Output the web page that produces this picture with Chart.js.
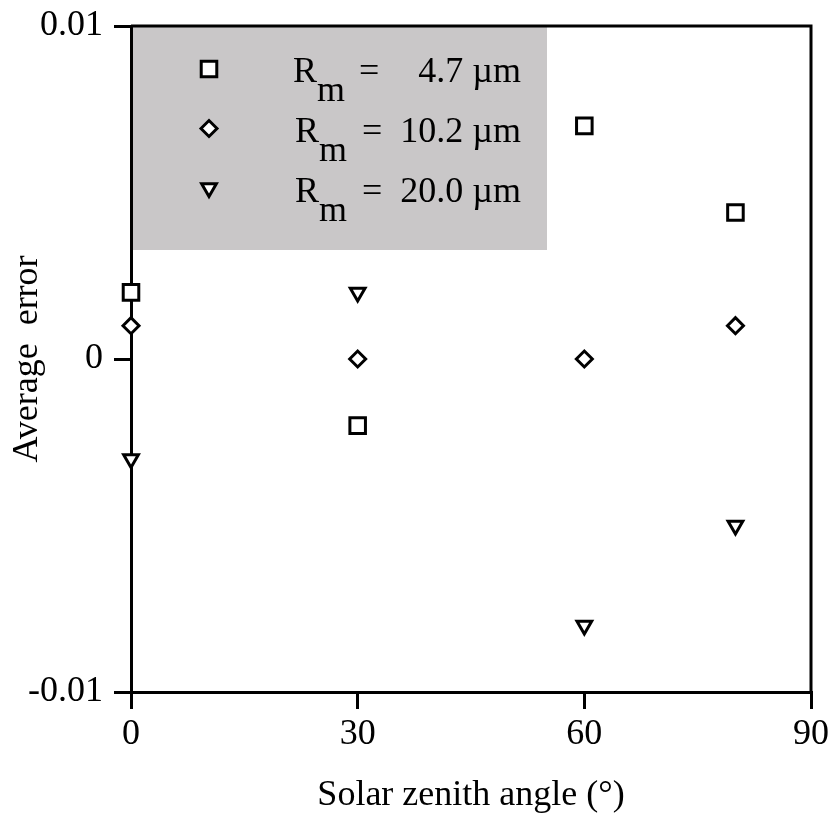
<!DOCTYPE html>
<html>
<head>
<meta charset="utf-8">
<script src="https://cdn.jsdelivr.net/npm/chart.js@4/dist/chart.umd.min.js"></script>
<style>
    body { margin: 0; background: #fff; }
    canvas { display: block; }
</style>
</head>
<body>
<canvas id="grafico" width="833" height="819"></canvas>
<script>
// data
const angulos = [0, 30, 60, 80];
const erro47 = [0.002, -0.002, 0.007, 0.0044];
const erro102 = [0.001, 0, 0, 0.001];
const erro200 = [-0.003, 0.002, -0.008, -0.005];
const raios = ['4.7', '10.2', '20.0'];
const yTicks = ['-0.01', '0', '0.01'];

Chart.defaults.font.family = "'Liberation Serif', 'Times New Roman', serif";
Chart.defaults.font.size = 36;
Chart.defaults.color = '#000';

function pontos(valores) {
    return angulos.map(function (a, i) { return { x: a, y: valores[i] }; });
}

const estilos = [
    { pointStyle: 'rect', radius: 11, rotation: 0 },
    { pointStyle: 'rectRot', radius: 8, rotation: 0 },
    { pointStyle: 'triangle', radius: 8.5, rotation: 180 }
];

const series = [erro47, erro102, erro200];

const datasets = series.map(function (valores, i) {
    return {
        label: 'R_m = ' + raios[i] + ' µm',
        data: pontos(valores),
        pointStyle: estilos[i].pointStyle,
        pointRadius: estilos[i].radius,
        pointRotation: estilos[i].rotation,
        pointBorderWidth: 3,
        pointBorderColor: '#000',
        pointBackgroundColor: '#fff',
        showLine: false,
        clip: false
    };
});

// gray legend box + frame top/right
const legendaCaixa = {
    id: 'legendaCaixa',
    beforeDraw: function (chart) {
        const ctx = chart.ctx;
        const area = chart.chartArea;
        ctx.save();
        ctx.fillStyle = '#c9c7c8';
        ctx.fillRect(area.left, area.top, 547 - area.left, 250 - area.top);

        for (let i = 0; i < raios.length; i++) {
            const yy = 69 + i * 59.5;
            ctx.fillStyle = '#fff';
            ctx.strokeStyle = '#000';
            ctx.lineWidth = 3;
            Chart.helpers.drawPoint(ctx, {
                pointStyle: estilos[i].pointStyle,
                rotation: estilos[i].rotation,
                radius: estilos[i].radius,
                borderWidth: 3
            }, 209, yy);

            ctx.fillStyle = '#000';
            ctx.font = "36px 'Liberation Serif', 'Times New Roman', serif";
            ctx.textBaseline = 'alphabetic';
            ctx.textAlign = 'left';
            const base = 82 + i * 60;
            const rx = i == 0 ? 293 : 295;
            ctx.fillText('R', rx, base);
            ctx.fillText('m', rx + 24, base + 19);
            ctx.fillText('=', i == 0 ? 359 : 362, base);
            ctx.textAlign = 'right';
            ctx.fillText(raios[i] + ' µm', 521, base);
        }
        ctx.restore();
    },
    beforeDatasetsDraw: function (chart) {
        const ctx = chart.ctx;
        const area = chart.chartArea;
        ctx.save();
        ctx.strokeStyle = '#000';
        ctx.lineWidth = 3;
        ctx.beginPath();
        ctx.moveTo(area.left, area.top);
        ctx.lineTo(area.right, area.top);
        ctx.lineTo(area.right, area.bottom);
        ctx.stroke();
        ctx.restore();
    }
};

new Chart(document.getElementById('grafico'), {
    type: 'scatter',
    data: { datasets: datasets },
    options: {
        responsive: false,
        animation: false,
        layout: {
            padding: { left: 0, top: 26, right: 22, bottom: 0 }
        },
        plugins: {
            legend: { display: false },
            tooltip: { enabled: false }
        },
        scales: {
            x: {
                type: 'linear',
                min: 0,
                max: 90,
                afterFit: function (scale) {
                    scale.height = 127;
                    scale.paddingLeft = 0;
                    scale.paddingRight = 0;
                },
                ticks: {
                    stepSize: 30,
                    padding: 4,
                    color: '#000'
                },
                grid: {
                    drawOnChartArea: false,
                    drawTicks: true,
                    tickLength: 17,
                    lineWidth: 3,
                    color: '#000'
                },
                border: { display: true, width: 3, color: '#000' },
                title: {
                    display: true,
                    text: 'Solar zenith angle (°)',
                    color: '#000',
                    padding: { top: 2, bottom: 2 }
                }
            },
            y: {
                type: 'linear',
                min: -0.01,
                max: 0.01,
                afterFit: function (scale) {
                    scale.width = 131;
                    scale.paddingTop = 0;
                    scale.paddingBottom = 0;
                },
                ticks: {
                    stepSize: 0.01,
                    padding: 11,
                    color: '#000',
                    callback: function (valor, indice) { return yTicks[indice]; }
                },
                grid: {
                    drawOnChartArea: false,
                    drawTicks: true,
                    tickLength: 17,
                    lineWidth: 3,
                    color: '#000'
                },
                border: { display: true, width: 3, color: '#000' },
                title: {
                    display: true,
                    text: 'Average  error',
                    color: '#000',
                    padding: { top: 6, bottom: 6 }
                }
            }
        }
    },
    plugins: [legendaCaixa]
});
</script>
</body>
</html>
